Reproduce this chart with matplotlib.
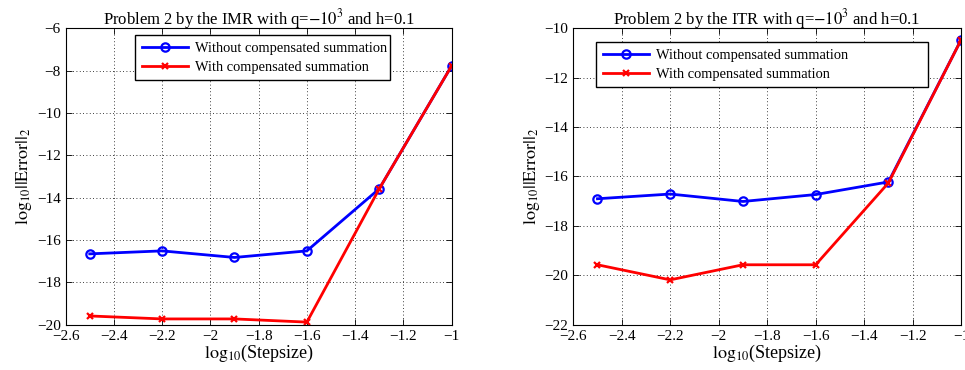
import numpy as np
import matplotlib.pyplot as plt

plt.rcParams["font.family"] = ["Liberation Serif", "DejaVu Serif"]
plt.rcParams["mathtext.fontset"] = "stix"

STEP = [-2.5, -2.2, -1.9, -1.6, -1.3, -1.0]

IMR_WITHOUT = [-16.65, -16.51, -16.82, -16.51, -13.58, -7.78]
IMR_WITH = [-19.58, -19.72, -19.72, -19.87, -13.58, -7.78]

ITR_WITHOUT = [-16.9, -16.71, -17.01, -16.73, -16.22, -10.47]
ITR_WITH = [-19.57, -20.18, -19.57, -19.57, -16.26, -10.47]

# (name, series, ylim, axes rect, legend box in axes fraction)
PANELS = [
    ("IMR", IMR_WITHOUT, IMR_WITH, (-20, -6), [0.068, 0.122, 0.4, 0.802],
     (0.18, 0.83, 0.661, 0.146)),
    ("ITR", ITR_WITHOUT, ITR_WITH, (-22, -10), [0.594, 0.122, 0.402, 0.802],
     (0.059, 0.807, 0.856, 0.146)),
]


def draw_panel(ax, name, without, with_, ylim, legend_box):
    ax.plot(STEP, without, color="blue", linewidth=2, marker="o",
            markersize=6, markerfacecolor="none", markeredgewidth=1.6,
            label="Without compensated summation")
    ax.plot(STEP, with_, color="red", linewidth=2, marker="x",
            markersize=4, markeredgewidth=1.6,
            label="With compensated summation")

    ax.set_xlim(-2.6, -1.0)
    ax.set_ylim(*ylim)
    ax.set_xticks(np.arange(-2.6, -0.99, 0.2))
    ax.set_xticklabels(["\u22122.6", "\u22122.4", "\u22122.2", "\u22122",
                        "\u22121.8", "\u22121.6", "\u22121.4", "\u22121.2",
                        "\u22121"])
    yt = np.arange(ylim[0], ylim[1] + 1, 2)
    ax.set_yticks(yt)
    ax.set_yticklabels([f"\u2212{abs(int(v))}" for v in yt])

    ax.tick_params(direction="in", top=True, right=True, labelsize=11,
                   length=4, width=0.6)
    ax.grid(True, linestyle=(0, (1, 3)), color="black", linewidth=0.6)
    for s in ax.spines.values():
        s.set_linewidth(0.8)

    ax.set_xlabel(r"$\mathrm{log}_{10}$(Stepsize)", fontsize=13, labelpad=0)
    ax.set_ylabel(r"$\mathrm{log}_{10}||\mathrm{Error}||_2$", fontsize=13,
                  labelpad=2)
    ax.set_title(f"Problem 2 by the {name} with q=" + r"$-10^3$" + " and h=0.1",
                 fontsize=12, pad=3)

    leg = ax.legend(loc="upper left", bbox_to_anchor=legend_box,
                    mode="expand", fontsize=10.4, fancybox=False,
                    edgecolor="black", framealpha=1, borderpad=0.45,
                    handlelength=3.2, handletextpad=0.5, labelspacing=0.4,
                    borderaxespad=0)
    leg.get_frame().set_linewidth(1.0)


fig = plt.figure(figsize=(9.65, 3.7), dpi=100)

for name, without, with_, ylim, rect, box in PANELS:
    ax = fig.add_axes(rect)
    draw_panel(ax, name, without, with_, ylim, box)

fig.savefig("out.png", dpi=100)
